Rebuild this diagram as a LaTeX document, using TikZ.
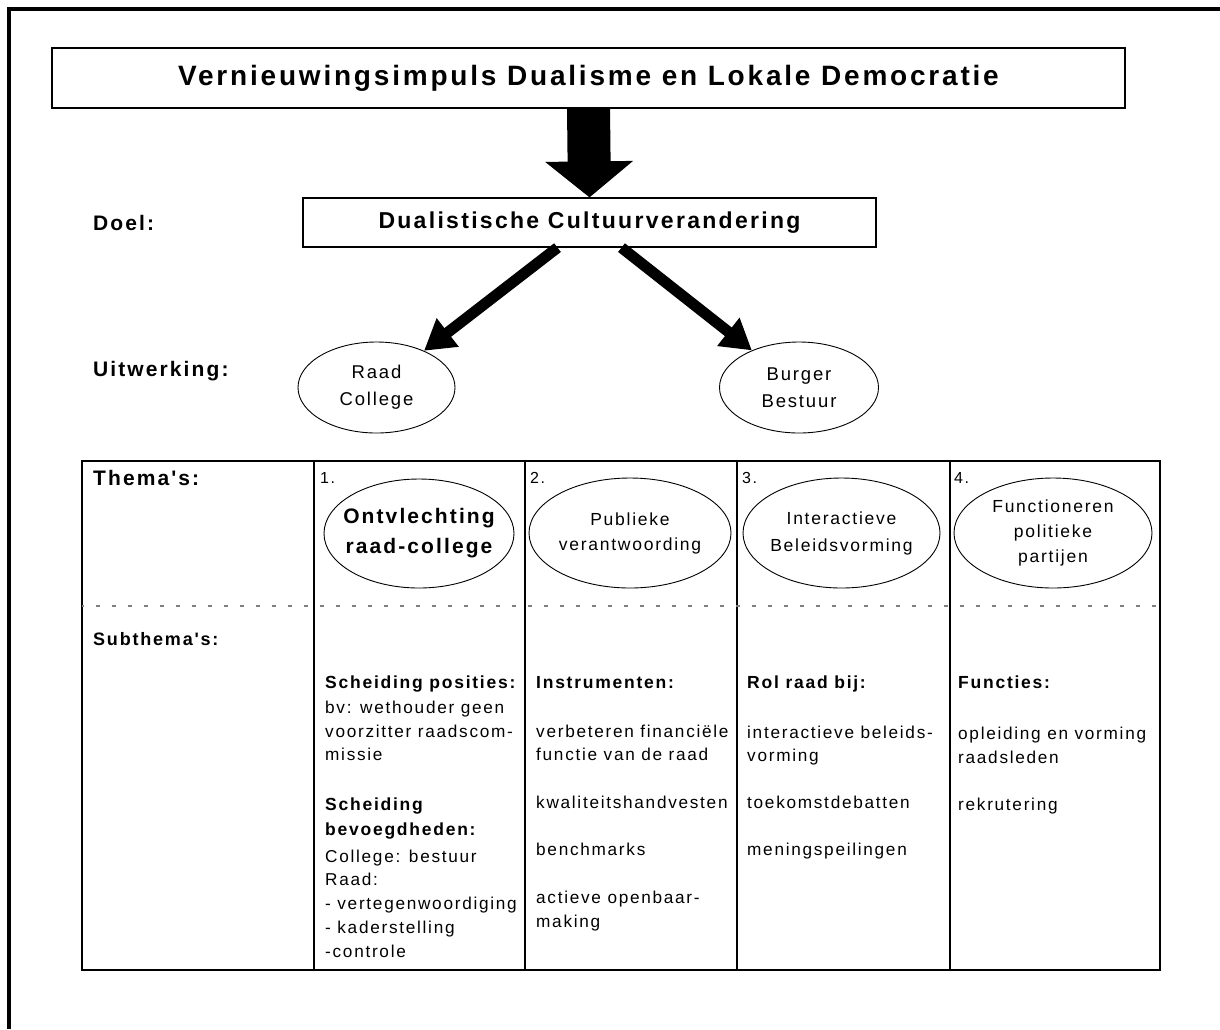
\documentclass[tikz,border=0pt]{standalone}
\usepackage{fontspec}
\setmainfont{Liberation Sans}[LetterSpace=10, Ligatures=TeXOff]
\usetikzlibrary{arrows.meta, positioning, shapes.geometric}

\definecolor{streep}{gray}{0.5}

\tikzset{
  every node/.style={inner sep=0pt},
  kader/.style={draw, line width=1.2pt},
  ovaal/.style={draw, ellipse, line width=0.9pt},
  ovaaltxt/.style={align=center, font=\fontsize{17.5}{25}\selectfont},
  kop/.style={anchor=base west, font=\fontsize{21}{25}\selectfont\bfseries},
  nummer/.style={anchor=base west, font=\fontsize{16}{20}\selectfont},
  txt/.style={anchor=base west, align=left, font=\fontsize{17.2}{23.5}\selectfont},
  txtb/.style={anchor=base west, align=left, font=\fontsize{17.5}{25}\selectfont\bfseries},
  dikpijl/.style={line width=43pt, -{Triangle[length=36pt, width=86pt]}},
  pijl/.style={line width=11pt, -{Triangle[length=30pt, width=34pt]}},
}

\begin{document}
\begin{tikzpicture}[x=1pt, y=-1pt]
\useasboundingbox (0,0) rectangle (1220,1029);

% Outer frame
\draw[line width=4pt] (9,1029) -- (9,9) -- (1220,9);

% Impuls and doel
\node[kader, minimum width=1073pt, minimum height=60pt, font=\fontsize{28}{30}\selectfont\bfseries] (impuls) at (588.5,78) {Vernieuwingsimpuls Dualisme en Lokale Democratie};
\node[kader, minimum width=573pt, minimum height=49pt, font=\fontsize{23}{26}\selectfont\bfseries] (doel) at (589.5,222.5) {Dualistische Cultuurverandering};
\draw[dikpijl] (impuls.south) -- (doel.north);

\node[kop] (doellbl) at (93,230) {Doel:};
\node[kop] (uitwlbl) at (93,376) {Uitwerking:};

% Uitwerking
\node[ovaal, minimum width=157pt, minimum height=91pt] (raad) at (376.5,387.5) {};
\node[ovaaltxt, font=\fontsize{18.5}{27}\selectfont] (raadtxt) at (raad) {Raad\\College};
\node[ovaal, minimum width=159pt, minimum height=91pt] (burger) at (799,387.5) {};
\node[ovaaltxt, font=\fontsize{18.5}{27}\selectfont] (burgertxt) at (burger) {Burger\\Bestuur};
\draw[pijl] ([xshift=-32pt]doel.south) -- (raad);
\draw[pijl] ([xshift=32pt]doel.south) -- (burger);

% The table
\draw[line width=2.2pt] (82,461) rectangle (1160,970);
\foreach \x in {314, 525, 737, 950}
  \draw[line width=2.2pt] (\x,461) -- (\x,970);
\draw[streep, line width=1.3pt, dash pattern=on 4pt off 12pt, dash phase=-14pt] (82,606) -- (1160,606);

\node[kop] (themalbl) at (93,485) {Thema's:};
\node[kop, font=\fontsize{18}{22}\selectfont\bfseries] (subthemalbl) at (93,645) {Subthema's:};

% Thema's
\node[nummer] (n1) at (320,483) {1.};
\node[nummer] (n2) at (530,483) {2.};
\node[nummer] (n3) at (742,483) {3.};
\node[nummer] (n4) at (954,483) {4.};
\node[ovaal, minimum width=190pt, minimum height=109pt] (thema1) at (419,533.5) {};
\node[ovaaltxt, font=\fontsize{21}{30}\selectfont\bfseries] (thema1txt) at (thema1) {Ontvlechting\\raad-college};
\node[ovaal, minimum width=202pt, minimum height=110pt] (thema2) at (630,533) {};
\node[ovaaltxt] (thema2txt) at (thema2) {Publieke\\verantwoording};
\node[ovaal, minimum width=197pt, minimum height=110pt] (thema3) at (841.5,533) {};
\node[ovaaltxt, font=\fontsize{17.5}{27}\selectfont] (thema3txt) at (thema3) {Interactieve\\Beleidsvorming};
\node[ovaal, minimum width=198pt, minimum height=110pt] (thema4) at (1053,533) {};
\node[ovaaltxt] (thema4txt) at (thema4) {Functioneren\\politieke\\partijen};

% Subthema's 1
\node[txtb] (s1a) at (325,688) {Scheiding posities:};
\node[txt] (s1b) at (325,760.5) {bv: wethouder geen\\voorzitter raadscom-\\missie};
\node[txtb] (s1c) at (325,835) {Scheiding\\bevoegdheden:};
\node[txt, font=\fontsize{17.2}{23.75}\selectfont] (s1d) at (325,957) {College: bestuur\\Raad:\\- vertegenwoordiging\\- kaderstelling\\-controle};

% Subthema's 2
\node[txtb] (s2a) at (536,688) {Instrumenten:};
\node[txt] (s2b) at (536,760.5) {verbeteren financiële\\functie van de raad};
\node[txt] (s2c) at (536,808) {kwaliteitshandvesten};
\node[txt] (s2d) at (536,855) {benchmarks};
\node[txt] (s2e) at (536,927) {actieve openbaar-\\making};

% Subthema's 3
\node[txtb] (s3a) at (747,688) {Rol raad bij:};
\node[txt] (s3b) at (747,761.5) {interactieve beleids-\\vorming};
\node[txt] (s3c) at (747,808) {toekomstdebatten};
\node[txt] (s3d) at (747,855) {meningspeilingen};

% Subthema's 4
\node[txtb] (s4a) at (958,688) {Functies:};
\node[txt] (s4b) at (958,763) {opleiding en vorming\\raadsleden};
\node[txt] (s4c) at (958,810) {rekrutering};

\end{tikzpicture}
\end{document}
